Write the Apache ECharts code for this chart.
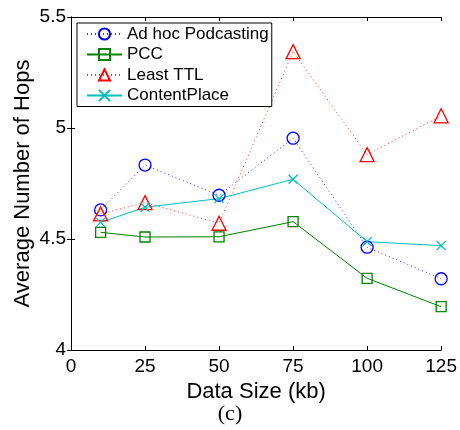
<!DOCTYPE html>
<html>
<head>
<meta charset="utf-8">
<script src="https://cdn.jsdelivr.net/npm/echarts@6/dist/echarts.min.js"></script>
<style>html,body{margin:0;padding:0;background:#fff;}#c{width:460px;height:430px;}</style>
</head>
<body>
<div id="c"></div>
<script>
var dataSizes = [10, 25, 50, 75, 100, 125];
var adhocPodcasting = [4.631, 4.833, 4.697, 4.954, 4.463, 4.321];
var pcc = [4.530, 4.509, 4.510, 4.578, 4.323, 4.195];
var leastTTL = [4.613, 4.664, 4.571, 5.344, 4.880, 5.055];
var contentPlace = [4.575, 4.643, 4.682, 4.769, 4.488, 4.470];
var xTicks = [0, 25, 50, 75, 100, 125];
var yTicks = [4, 4.5, 5, 5.5];

var FONT = 'Liberation Sans';
function pairs(ys) { return dataSizes.map(function (x, i) { return [x, ys[i]]; }); }
function mk(name, ys, color, symbol, size, dotted) {
  return {
    name: name, type: 'line', data: pairs(ys),
    symbol: symbol, symbolSize: size, showSymbol: true,
    lineStyle: { color: color, width: 1, type: dotted ? [1, 3] : 'solid', opacity: dotted ? 0.8 : 1 },
    itemStyle: { color: 'rgba(0,0,0,0)', borderColor: color, borderWidth: 1.3 },
    emphasis: { disabled: true }, animation: false
  };
}
var chart = echarts.init(document.getElementById('c'), null, { renderer: 'canvas' });
var axisCommon = {
  axisLine: { show: true, lineStyle: { color: '#000', width: 1 } },
  axisTick: { show: true, inside: true, length: 4, lineStyle: { color: '#000' } },
  splitLine: { show: false }
};
chart.setOption({
  backgroundColor: '#fff',
  animation: false,
  grid: { left: 71, right: 18, top: 17, bottom: 80, containLabel: false },
  xAxis: [
    Object.assign({ type: 'value', min: xTicks[0], max: xTicks[xTicks.length - 1], interval: 25,
      position: 'bottom',
      axisLabel: { fontFamily: FONT, fontSize: 19, color: '#000', margin: 7 },
      name: 'Data Size (kb)', nameLocation: 'middle', nameGap: 29,
      nameTextStyle: { fontFamily: FONT, fontSize: 22, color: '#000' } }, axisCommon),
    Object.assign({ type: 'value', min: xTicks[0], max: xTicks[xTicks.length - 1], interval: 25,
      position: 'top', axisLabel: { show: false } }, axisCommon)
  ],
  yAxis: [
    Object.assign({ type: 'value', min: yTicks[0], max: yTicks[yTicks.length - 1], interval: 0.5,
      position: 'left',
      axisLabel: { fontFamily: FONT, fontSize: 19, color: '#000', margin: 5,
        formatter: function (v) { return String(v); } },
      name: 'Average Number of Hops', nameLocation: 'middle', nameGap: 37, nameMoveOverlap: false,
      nameTextStyle: { fontFamily: FONT, fontSize: 22, color: '#000' } }, axisCommon),
    Object.assign({ type: 'value', min: yTicks[0], max: yTicks[yTicks.length - 1], interval: 0.5,
      position: 'right', axisLabel: { show: false } }, axisCommon)
  ],
  legend: {
    orient: 'vertical', left: 77, top: 23,
    backgroundColor: '#fff', borderColor: '#000', borderWidth: 1,
    padding: [1.5, 3, 1.5, 9], itemWidth: 35, itemHeight: 14, itemGap: 1.5,
    textStyle: { fontFamily: FONT, fontSize: 17, color: '#000', lineHeight: 19 },
    data: ['Ad hoc Podcasting', 'PCC', 'Least TTL', 'ContentPlace']
  },
  graphic: [{
    type: 'text', left: 'center', top: 403,
    style: { text: '(c)', font: '22px "Liberation Serif", "DejaVu Serif", serif', fill: '#000' }
  }],
  series: [
    mk('Ad hoc Podcasting', adhocPodcasting, '#0000ff', 'circle', 12, true),
    mk('PCC', pcc, '#008000', 'rect', 10, false),
    mk('Least TTL', leastTTL, '#ff0000', 'triangle', 14, true),
    mk('ContentPlace', contentPlace, '#00bfbf', 'path://M0 0L10 10M10 0L0 10', 9, false)
  ]
});
</script>
</body>
</html>
